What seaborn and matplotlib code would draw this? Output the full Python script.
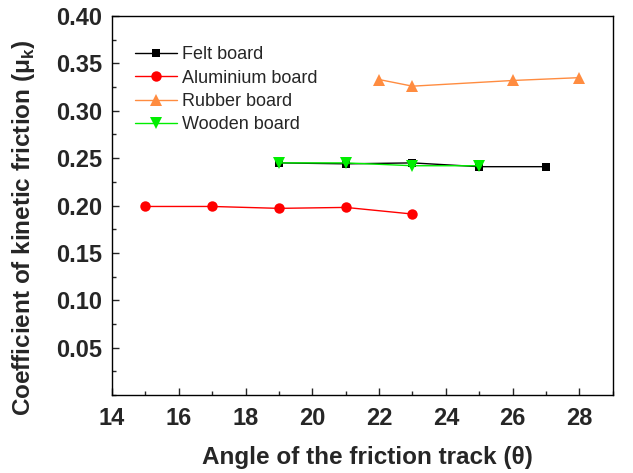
import numpy             as np
import pandas            as pd
import matplotlib
matplotlib.use('Agg')
import matplotlib.pyplot as plt
import seaborn           as sns
from matplotlib.ticker import MultipleLocator

# data
felt_x     = [19, 21, 23, 25, 27]
felt_y     = [0.245, 0.244, 0.245, 0.241, 0.241]
alu_x      = [15, 17, 19, 21, 23]
alu_y      = [0.199, 0.199, 0.197, 0.198, 0.191]
rubber_x   = [22, 23, 26, 28]
rubber_y   = [0.333, 0.326, 0.332, 0.335]
wood_x     = [19, 21, 23, 25]
wood_y     = [0.245, 0.245, 0.242, 0.242]

series = [
    ('Felt board',      felt_x,   felt_y,   'black',   's', 6),
    ('Aluminium board', alu_x,    alu_y,    '#ff0000', 'o', 7.5),
    ('Rubber board',    rubber_x, rubber_y, '#ff8c40', '^', 8.5),
    ('Wooden board',    wood_x,   wood_y,   '#00ee00', 'v', 8.5),
]

sns.set_style('white')
plt.rcParams['font.family'] = ['Liberation Sans', 'DejaVu Sans']

fig = plt.figure(figsize = (6.33, 4.73), dpi = 100)
ax  = fig.add_axes([0.177, 0.165, 0.791, 0.801])

for name, x, y, c, m, s in series:
    df = pd.DataFrame({'x': x, 'y': y})
    sns.lineplot(data = df, x = 'x', y = 'y', ax = ax, color = c, marker = m,
                 markersize = s, markeredgewidth = 0, linewidth = 1,
                 label = name)

ax.set_xlim(14, 29)
ax.set_ylim(0.0, 0.40)
ax.xaxis.set_major_locator(MultipleLocator(2))
ax.xaxis.set_minor_locator(MultipleLocator(1))
ax.yaxis.set_minor_locator(MultipleLocator(0.025))
yt = np.arange(0.05, 0.401, 0.05)
ax.set_yticks(yt)
ax.set_yticklabels(['%.2f' % v for v in yt])

ax.tick_params(axis = 'x', which = 'major', pad = 9)
ax.tick_params(axis = 'y', which = 'major', pad = 7)
ax.tick_params(axis = 'both', which = 'major', direction = 'in', length = 5,
               width = 1, left = True, bottom = True, labelsize = 17)
ax.tick_params(axis = 'both', which = 'minor', direction = 'in', length = 3,
               width = 1, left = True, bottom = True)
for lab in ax.get_xticklabels() + ax.get_yticklabels():
    lab.set_fontweight('bold')
for sp in ax.spines.values():
    sp.set_color('black')
    sp.set_linewidth(1)

ax.set_xlabel('Angle of the friction track (\u03b8)', fontsize = 17.5,
              fontweight = 'bold')
ax.set_ylabel('Coefficient of kinetic friction (\u03bc$_\\mathregular{k}$)',
              fontsize = 17.5, fontweight = 'bold')
ax.xaxis.set_label_coords(0.511, -0.135)
ax.yaxis.set_label_coords(-0.15, 0.44)

ax.legend(loc = 'upper left', bbox_to_anchor = (0.046, 0.92), frameon = False,
          fontsize = 13, handlelength = 2.3, handletextpad = 0.3,
          labelspacing = 0.35, borderaxespad = 0, borderpad = 0)

fig.savefig('out.png', dpi = 100)
